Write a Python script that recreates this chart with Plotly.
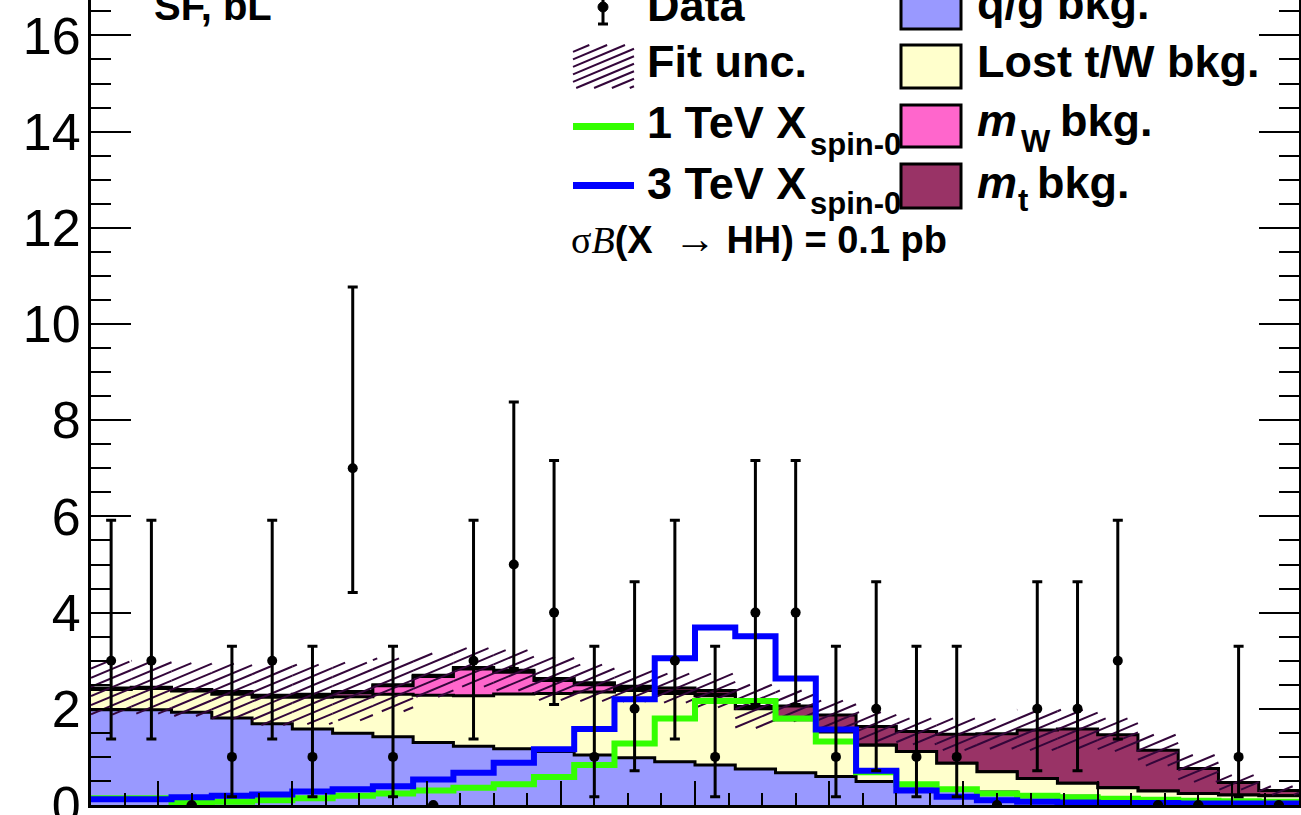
import math
import plotly.graph_objects as go

# ---------------- data ----------------
n_bins = 30
bin_start = -0.5
bin_width = 0.3

qg_bkg = [1.98, 1.98, 1.93, 1.81, 1.69, 1.58, 1.49, 1.42, 1.30, 1.22,
          1.17, 1.11, 1.04, 0.98, 0.90, 0.83, 0.75, 0.67, 0.59, 0.49,
          0.40, 0.34, 0.27, 0.22, 0.18, 0.15, 0.12, 0.10, 0.08, 0.07]
lost_bkg = [0.42, 0.44, 0.44, 0.49, 0.55, 0.66, 0.76, 0.88, 0.98, 1.05,
            1.14, 1.21, 1.31, 1.40, 1.42, 1.44, 1.25, 1.10, 0.93, 0.75,
            0.71, 0.53, 0.42, 0.33, 0.27, 0.21, 0.17, 0.14, 0.13, 0.12]
mw_bkg = [0.01, 0.01, 0.01, 0.03, 0.02, 0.04, 0.08, 0.18, 0.39, 0.56,
          0.45, 0.27, 0.15, 0.04, 0.04, 0.03, 0.01, 0.01, 0.01, 0.01,
          0.00, 0.00, 0.00, 0.00, 0.00, 0.00, 0.00, 0.00, 0.00, 0.00]
mt_bkg = [0.02, 0.02, 0.02, 0.03, 0.02, 0.02, 0.03, 0.02, 0.03, 0.03,
          0.04, 0.04, 0.04, 0.05, 0.07, 0.08, 0.04, 0.28, 0.34, 0.38,
          0.42, 0.60, 0.79, 1.01, 1.13, 1.10, 0.85, 0.52, 0.26, 0.11]
fit_unc = [0.55, 0.55, 0.55, 0.58, 0.62, 0.62, 0.60, 0.55, 0.45, 0.40,
           0.42, 0.45, 0.38, 0.32, 0.30, 0.35, 0.45, 0.32, 0.30, 0.30,
           0.27, 0.33, 0.31, 0.42, 0.40, 0.34, 0.32, 0.28, 0.15, 0.09]
sig_1tev = [0.14, 0.14, 0.05, 0.07, 0.10, 0.14, 0.19, 0.24, 0.30, 0.36,
            0.43, 0.58, 0.83, 1.28, 1.80, 2.16, 2.16, 1.80, 1.32, 0.68,
            0.43, 0.33, 0.24, 0.19, 0.16, 0.13, 0.11, 0.09, 0.08, 0.07]
sig_3tev = [0.12, 0.12, 0.16, 0.19, 0.22, 0.28, 0.33, 0.39, 0.53, 0.67,
            0.88, 1.16, 1.58, 2.20, 3.05, 3.69, 3.51, 2.63, 1.57, 0.71,
            0.30, 0.17, 0.10, 0.07, 0.05, 0.04, 0.04, 0.03, 0.03, 0.03]
data_counts = [3, 3, 0, 1, 3, 1, 7, 1, 0, 3, 5, 4, 1, 2, 3,
               1, 4, 4, 1, 2, 1, 1, 0, 2, 2, 3, 0, 0, 1, 0]
# Poisson (Garwood) intervals for the counts above
err_up_by_n = {0: 0.0, 1: 2.30, 2: 2.64, 3: 2.92, 4: 3.16, 5: 3.38, 7: 3.77}
err_dn_by_n = {0: 0.0, 1: 0.83, 2: 1.29, 3: 1.63, 4: 1.91, 5: 2.16, 7: 2.58}
y_ticks = [0, 2, 4, 6, 8, 10, 12, 14, 16]

# ---------------- geometry / style ----------------
W, H = 1301, 815
L, R, T, B = 91, 2, 0, 10
X_RANGE = [-0.5, 8.5]
Y_RANGE = [0, 16.736]
FONT = "Liberation Sans"
SERIF = "Liberation Serif"
HATCH_COLOR = "#33063a"

edges = [bin_start + bin_width * i for i in range(n_bins + 1)]
centers = [bin_start + bin_width * (i + 0.5) for i in range(n_bins)]


def step(vals):
    return list(vals) + [vals[-1]]


def cumsum(*series):
    return [sum(v) for v in zip(*series)]


lvl_qg = cumsum(qg_bkg)
lvl_lost = cumsum(qg_bkg, lost_bkg)
lvl_mw = cumsum(qg_bkg, lost_bkg, mw_bkg)
lvl_tot = cumsum(qg_bkg, lost_bkg, mw_bkg, mt_bkg)

fig = go.Figure()

stack = [
    (lvl_tot, "#993366", "m_t bkg."),
    (lvl_mw, "#ff66cc", "m_W bkg."),
    (lvl_lost, "#ffffcc", "Lost t/W bkg."),
    (lvl_qg, "#9999ff", "q/g bkg."),
]
for lvl, col, name in stack:
    fig.add_trace(go.Scatter(
        x=edges, y=step(lvl), mode="lines", line_shape="hv",
        line=dict(color="black", width=3), fill="tozeroy", fillcolor=col,
        name=name, showlegend=False, hoverinfo="skip"))

# hatched fit-uncertainty band (lines computed inside the band, data coords)
HATCH_SLOPE = 1.17     # y-units per x-unit (~23 deg on screen)
HATCH_SPACING = 0.19   # vertical spacing in y-units


def hatch(rects, slope, spacing):
    xs, ys = [], []
    for a, b, lo, hi in rects:
        if hi <= lo:
            continue
        k0 = math.ceil((lo - slope * b) / spacing)
        k1 = math.floor((hi - slope * a) / spacing)
        for k in range(k0, k1 + 1):
            c = k * spacing
            xa = max(a, (lo - c) / slope)
            xb = min(b, (hi - c) / slope)
            if xb > xa:
                xs += [xa, xb, None]
                ys += [slope * xa + c, slope * xb + c, None]
    return xs, ys


band_rects = [(edges[i], edges[i + 1], max(0.0, lvl_tot[i] - fit_unc[i]),
               lvl_tot[i] + fit_unc[i]) for i in range(n_bins)]
hx, hy = hatch(band_rects, HATCH_SLOPE, HATCH_SPACING)
fig.add_trace(go.Scatter(x=hx, y=hy, mode="lines",
                         line=dict(color=HATCH_COLOR, width=2),
                         showlegend=False, hoverinfo="skip"))

# signals
fig.add_trace(go.Scatter(x=edges, y=step(sig_1tev), mode="lines", line_shape="hv",
                         line=dict(color="#33ff00", width=6), showlegend=False))
fig.add_trace(go.Scatter(x=edges, y=step(sig_3tev), mode="lines", line_shape="hv",
                         line=dict(color="#0000ff", width=6), showlegend=False))

# data
fig.add_trace(go.Scatter(
    x=centers, y=data_counts, mode="markers",
    marker=dict(color="black", size=10),
    error_y=dict(type="data", symmetric=False,
                 array=[err_up_by_n[n] for n in data_counts],
                 arrayminus=[err_dn_by_n[n] for n in data_counts],
                 color="black", thickness=3, width=5),
    showlegend=False))


# ---------------- legend & labels (pixel helpers) ----------------
def xp(px):
    return (px - L) / (W - L - R)


def yp(py):
    return (H - B - py) / (H - T - B)


shapes = []
annotations = []


def text(px, py, s, size, anchor="left"):
    annotations.append(dict(x=xp(px), y=yp(py), xref="paper", yref="paper",
                            text=s, showarrow=False, xanchor=anchor,
                            yanchor="middle",
                            font=dict(family=FONT, size=size, color="black")))


LEG = 45
SUB = 31
text(152, 6, "<b>SF, bL</b>", 40)
text(645, 5, "<b>Data</b>", LEG)
text(645, 62, "<b>Fit unc.</b>", LEG)
text(645, 122, "<b>1 TeV X</b>", LEG)
text(808, 144, "<b>spin-0</b>", SUB)
text(645, 183, "<b>3 TeV X</b>", LEG)
text(808, 203, "<b>spin-0</b>", SUB)
text(569, 239, '<span style="font-family:%s">σ<i>B</i></span>'
     '<b>(X&nbsp; </b><span style="font-family:%s;font-size:42px">→</span>'
     '<b> HH) = 0.1 pb</b>' % (SERIF, SERIF), 38)
text(975, 4, "<b>q/g bkg.</b>", LEG)
text(975, 61, "<b>Lost t/W bkg.</b>", LEG)
text(975, 121, "<b><i>m</i></b>", LEG)
text(1019, 141, "<b>W</b>", SUB)
text(1058, 121, "<b>bkg.</b>", LEG)
text(975, 182, "<b><i>m</i></b>", LEG)
text(1016, 200, "<b>t</b>", SUB)
text(1035, 182, "<b>bkg.</b>", LEG)

# data marker symbol
shapes.append(dict(type="line", xref="paper", yref="paper", x0=xp(603), x1=xp(603),
                   y0=yp(-5), y1=yp(24), line=dict(color="black", width=3)))
shapes.append(dict(type="line", xref="paper", yref="paper", x0=xp(598), x1=xp(608),
                   y0=yp(24), y1=yp(24), line=dict(color="black", width=3)))
shapes.append(dict(type="circle", xref="paper", yref="paper", x0=xp(598), x1=xp(608),
                   y0=yp(2), y1=yp(12), fillcolor="black", line=dict(color="black", width=1)))

# signal line symbols
for py, col in [(126.5, "#33ff00"), (185.5, "#0000ff")]:
    shapes.append(dict(type="line", xref="paper", yref="paper", x0=xp(573), x1=xp(634),
                       y0=yp(py), y1=yp(py), line=dict(color=col, width=7)))

# background boxes
for (y0, y1), col in zip([(-20, 29), (45, 88), (105, 147), (164, 208)],
                         ["#9999ff", "#ffffcc", "#ff66cc", "#993366"]):
    shapes.append(dict(type="rect", xref="paper", yref="paper", x0=xp(901), x1=xp(961),
                       y0=yp(y1), y1=yp(y0), fillcolor=col,
                       line=dict(color="black", width=3)))

# hatched legend box (pixel space, y up)
lx, ly = hatch([(573, 634, -88, -45)], 0.42, 7.5)
for i in range(0, len(lx), 3):
    shapes.append(dict(type="line", xref="paper", yref="paper",
                       x0=xp(lx[i]), x1=xp(lx[i + 1]), y0=yp(-ly[i]), y1=yp(-ly[i + 1]),
                       line=dict(color=HATCH_COLOR, width=2)))

fig.update_layout(
    width=W, height=H, autosize=False,
    margin=dict(l=L, r=R, t=T, b=B, pad=0, autoexpand=False),
    paper_bgcolor="white", plot_bgcolor="white",
    showlegend=False, shapes=shapes, annotations=annotations,
    xaxis=dict(range=X_RANGE, showline=True, linecolor="black", linewidth=3,
               mirror=False, ticks="inside", ticklen=24, tickwidth=2, tickcolor="black",
               tick0=0, dtick=1, showticklabels=False, showgrid=False, zeroline=False,
               automargin=False,
               minor=dict(ticks="inside", ticklen=12, tickwidth=2, tickcolor="black",
                          dtick=0.25, showgrid=False)),
    yaxis=dict(range=Y_RANGE, showline=True, linecolor="black", linewidth=3,
               mirror="ticks", ticks="inside", ticklen=40, tickwidth=2, tickcolor="black",
               tickvals=y_ticks, ticktext=[str(v) for v in y_ticks],
               tickfont=dict(family=FONT, size=52, color="black"),
               ticklabelstandoff=-3, ticklabeloverflow="allow",
               showgrid=False, zeroline=False, automargin=False,
               minor=dict(ticks="inside", ticklen=20, tickwidth=2, tickcolor="black",
                          dtick=0.5, showgrid=False)),
)

fig.write_html(
    "out.html",
    config={"displayModeBar": False},
    post_script="document.body.style.margin='0';document.body.style.overflow='hidden';",
)
